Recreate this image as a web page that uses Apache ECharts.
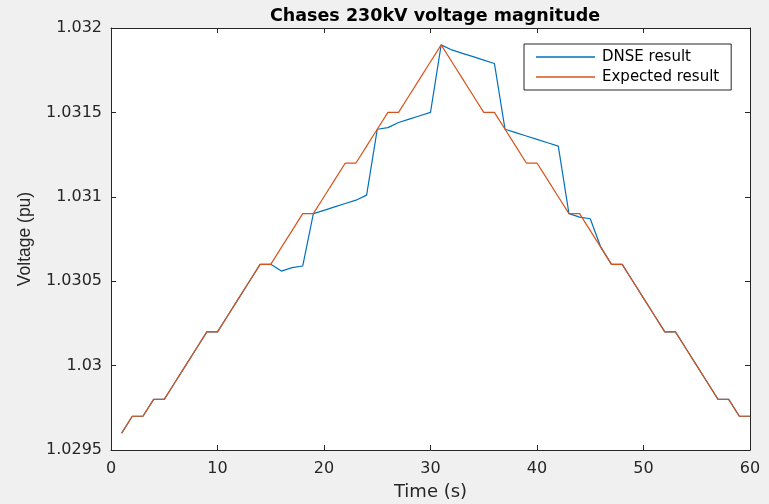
<!DOCTYPE html>
<html>
<head>
<meta charset="utf-8">
<script src="https://cdn.jsdelivr.net/npm/echarts@6/dist/echarts.min.js"></script>
<style>
html,body{margin:0;padding:0;background:#f0f0f0;}
#c{width:769px;height:504px;}
</style>
</head>
<body>
<div id="c"></div>
<script>
var chartTitle = 'Chases 230kV voltage magnitude';
var xName = 'Time (s)';
var yName = 'Voltage (pu)';
var seriesNames = ['DNSE result', 'Expected result'];
var time = [1,2,3,4,5,6,7,8,9,10,11,12,13,14,15,16,17,18,19,20,21,22,23,24,25,26,27,28,29,30,
            31,32,33,34,35,36,37,38,39,40,41,42,43,44,45,46,47,48,49,50,51,52,53,54,55,56,57,58,59,60];
var expected = [1.0296,1.0297,1.0297,1.0298,1.0298,1.0299,1.0300,1.0301,1.0302,1.0302,
                1.0303,1.0304,1.0305,1.0306,1.0306,1.0307,1.0308,1.0309,1.0309,1.0310,
                1.0311,1.0312,1.0312,1.0313,1.0314,1.0315,1.0315,1.0316,1.0317,1.0318,
                1.0319,1.0318,1.0317,1.0316,1.0315,1.0315,1.0314,1.0313,1.0312,1.0312,
                1.0311,1.0310,1.0309,1.0309,1.0308,1.0307,1.0306,1.0306,1.0305,1.0304,
                1.0303,1.0302,1.0302,1.0301,1.0300,1.0299,1.0298,1.0298,1.0297,1.0297];
var dnse = [1.0296,1.0297,1.0297,1.0298,1.0298,1.0299,1.0300,1.0301,1.0302,1.0302,
            1.0303,1.0304,1.0305,1.0306,1.0306,1.03056,1.03058,1.03059,1.0309,1.03092,
            1.03094,1.03096,1.03098,1.03101,1.0314,1.03141,1.03144,1.03146,1.03148,1.0315,
            1.0319,1.03187,1.03185,1.03183,1.03181,1.03179,1.0314,1.03138,1.03136,1.03134,
            1.03132,1.0313,1.0309,1.03088,1.03087,1.0307,1.0306,1.0306,1.0305,1.0304,
            1.0303,1.0302,1.0302,1.0301,1.0300,1.0299,1.0298,1.0298,1.0297,1.0297];
var xMin = 0, xMax = 60, xStep = 10;
var yMin = 1.0295, yMax = 1.032, yStep = 0.0005;

function pairs(xs, ys){ return xs.map(function(x,i){ return [x, ys[i]]; }); }

var fontH = 'DejaVu Sans';
var axisColor = '#262626';
var chart = echarts.init(document.getElementById('c'), null, {renderer:'canvas'});

function yFmt(v){ return String(parseFloat(v.toFixed(4))); }

var baseX = {
  type:'value', min:xMin, max:xMax, interval:xStep,
  axisLine:{show:true, onZero:false, lineStyle:{color:axisColor, width:1}},
  axisTick:{show:true, inside:true, length:5, lineStyle:{color:axisColor}},
  splitLine:{show:false}
};
var baseY = {
  type:'value', min:yMin, max:yMax, interval:yStep,
  axisLine:{show:true, onZero:false, lineStyle:{color:axisColor, width:1}},
  axisTick:{show:true, inside:true, length:5, lineStyle:{color:axisColor}},
  splitLine:{show:false}
};

chart.setOption({
  backgroundColor:'#f0f0f0',
  animation:false,
  title:{
    text:chartTitle, left:430, top:2, textAlign:'center',
    textStyle:{fontFamily:fontH, fontWeight:'bold', fontSize:17.5, color:'#000'}
  },
  grid:{left:111, right:19, top:28, bottom:54, show:true, backgroundColor:'#ffffff', borderWidth:0,
        containLabel:false, outerBoundsMode:'none'},
  legend:{
    orient:'vertical', left:524, top:44,
    backgroundColor:'#ffffff', borderColor:axisColor, borderWidth:1,
    padding:[4,12,4,12], itemGap:2, itemWidth:59, itemHeight:1.5,
    icon:'rect',
    data:seriesNames,
    textStyle:{fontFamily:fontH, fontSize:15, color:'#000', lineHeight:18, padding:[0,0,0,2]}
  },
  xAxis:[
    Object.assign({}, baseX, {
      position:'bottom', name:xName, nameLocation:'middle', nameGap:33,
      nameTextStyle:{fontFamily:fontH, fontSize:18, color:axisColor},
      axisLabel:{show:true, margin:11, fontFamily:fontH, fontSize:16, color:axisColor}
    }),
    Object.assign({}, baseX, {position:'top', axisLabel:{show:false}})
  ],
  yAxis:[
    Object.assign({}, baseY, {
      position:'left', name:yName, nameLocation:'middle', nameGap:77,
      nameTextStyle:{fontFamily:'Liberation Sans', fontSize:17.5, color:axisColor},
      axisLabel:{show:true, margin:9, fontFamily:fontH, fontSize:16, color:axisColor, formatter:yFmt}
    }),
    Object.assign({}, baseY, {position:'right', axisLabel:{show:false}})
  ],
  series:[
    {name:seriesNames[0], type:'line', data:pairs(time, dnse), showSymbol:false, symbol:'none',
     lineStyle:{color:'#0072BD', width:1.2}, itemStyle:{color:'#0072BD'}, z:2},
    {name:seriesNames[1], type:'line', data:pairs(time, expected), showSymbol:false, symbol:'none',
     lineStyle:{color:'#D95319', width:1.2}, itemStyle:{color:'#D95319'}, z:3}
  ]
});
</script>
</body>
</html>
